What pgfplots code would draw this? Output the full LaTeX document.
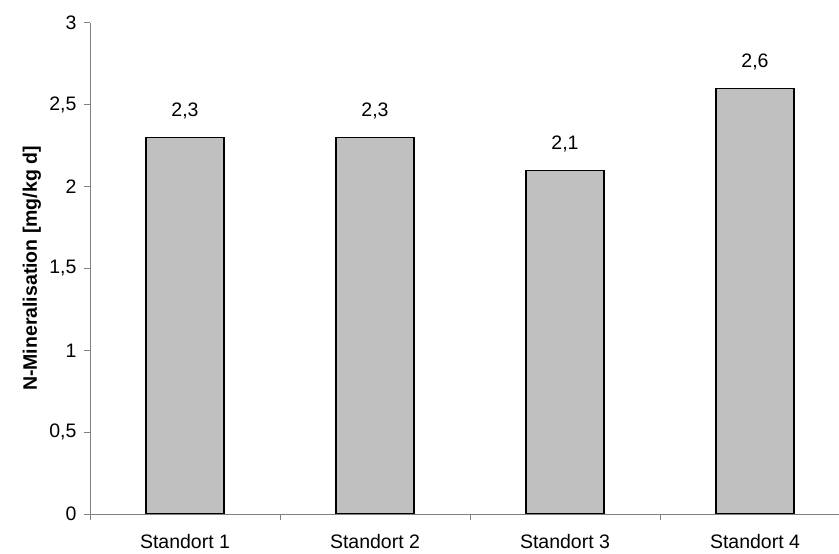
\documentclass[border=0pt]{standalone}
\usepackage{pgfplots}
\pgfplotsset{compat=1.18}
\usepackage{fontspec}
\setmainfont{Liberation Sans}
\definecolor{barfill}{HTML}{C0C0C0}
\definecolor{axisgray}{HTML}{808080}
\begin{document}
\begin{tikzpicture}[font=\fontsize{19.5bp}{23bp}\selectfont]
\useasboundingbox (-90bp,-40bp) rectangle (749bp,514bp);
\begin{axis}[
  at={(0,0)}, anchor=south west,
  width=760bp, height=491bp, scale only axis,
  xmin=-0.5, xmax=3.5, ymin=0, ymax=3,
  axis x line*=bottom, axis y line*=left,
  axis line style={draw=axisgray, line width=1pt, -},
  every tick/.style={draw=axisgray, line width=1pt},
  tick align=outside, major tick length=6bp,
  ytick={0,0.5,...,3},
  yticklabel style={/pgf/number format/use comma, /pgf/number format/fixed, xshift=-4bp},
  /pgf/number format/assume math mode=true,
  xtick={-0.5,0.5,1.5,2.5,3.5},
  xticklabels={},
  extra x ticks={0,1,2,3},
  extra x tick labels={Standort 1,Standort 2,Standort 3,Standort 4},
  extra x tick style={major tick length=0pt, xticklabel style={inner sep=0pt, anchor=north, yshift=-20bp}},
  ylabel={\bfseries N-Mineralisation [mg/kg d]},
  ylabel style={at={([xshift=-58bp]axis description cs:0,0.5)}, anchor=center},
  ybar, bar width=78bp,
  nodes near coords,
  nodes near coords style={/pgf/number format/use comma, /pgf/number format/fixed, anchor=south, inner sep=0pt, yshift=18bp, text=black},
]
\addplot[fill=barfill, draw=black, line width=1.2pt] coordinates {(0,2.3) (1,2.3) (2,2.1) (3,2.6)};
\end{axis}
\end{tikzpicture}
\end{document}
